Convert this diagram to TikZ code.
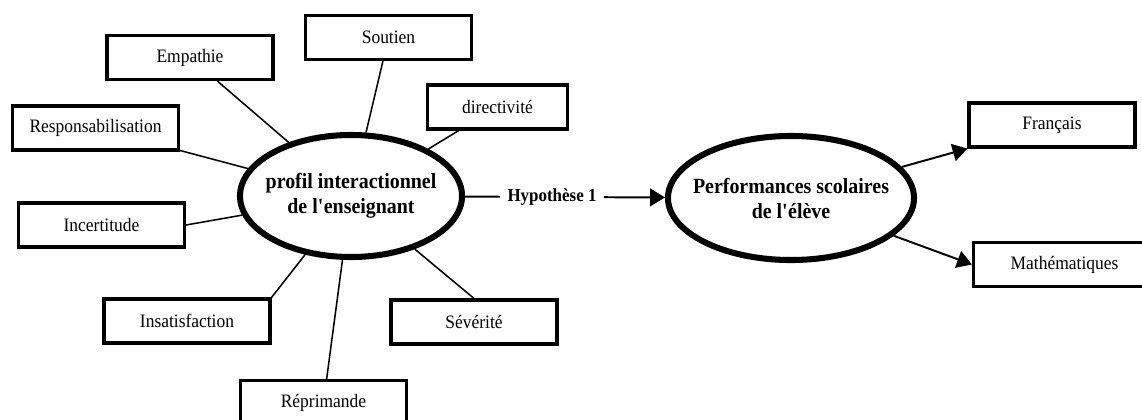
\documentclass[tikz,border=0pt]{standalone}
\usepackage{fontspec}
\setmainfont{Liberation Serif}[FakeStretch=0.92]
\usetikzlibrary{arrows.meta,shapes.geometric}

\begin{document}
\begin{tikzpicture}[x=0.025cm,y=-0.025cm,
  facette/.style={draw, line width=2.2pt, minimum width=4.15cm, minimum height=1.1cm, inner sep=0pt, font=\fontsize{13.5}{16}\selectfont},
  bulle/.style={draw, ellipse, line width=4.3pt, inner sep=0pt},
  titre/.style={font=\fontsize{15.4}{17.8}\selectfont\bfseries, align=center},
  lien/.style={line width=1.1pt},
  fleche/.style={line width=1.4pt, -{Triangle[length=10.5pt,width=12.5pt]}}]
\useasboundingbox (0,0) rectangle (1142,420);

% the two ellipses
\node[bulle, minimum width=5.55cm, minimum height=3.05cm,
  label={[titre]center:{profil interactionnel\\de l\textquotesingle enseignant}}] (prof) at (351,196) {};
\node[bulle, minimum width=6.15cm, minimum height=3.1cm,
  label={[titre]center:{Performances scolaires\\de l\textquotesingle élève}}] (perf) at (791,198) {};

% facets of the teacher profile
\node[facette] (emp) at (190,57.5) {Empathie};
\node[facette] (sout) at (388.5,37.5) {Soutien};
\node[facette, minimum width=3.5cm] (dir) at (497.5,107) {directivité};
\node[facette] (resp) at (95.5,128) {Responsabilisation};
\node[facette] (inc) at (101.5,225) {Incertitude};
\node[facette] (insat) at (187,321) {Insatisfaction};
\node[facette] (sev) at (474,322) {Sévérité};
\node[facette] (repr) at (323.5,402.5) {Réprimande};

\draw[lien] (emp) -- (prof);
\draw[lien] (sout) -- (prof);
\draw[lien] (dir) -- (prof);
\draw[lien] (resp) -- (prof);
\draw[lien] (inc.east) -- (prof);
\draw[lien] (insat.north east) -- (prof);
\draw[lien] (repr) -- (prof);
\draw[lien] (sev.north) -- (prof);

% hypothesis
\node[font=\fontsize{13.1}{15}\selectfont\bfseries, inner xsep=5pt] (hyp) at (552,197) {Hypothèse 1};
\draw[line width=1.4pt] (prof) -- (hyp);
\draw[fleche] (hyp) -- (perf);

% school subjects
\node[facette] (fr) at (1052,125) {Français};
\node[facette, minimum width=4.55cm] (math) at (1064.5,264.5) {Mathématiques};
\draw[fleche] (perf) -- (fr.south west);
\draw[fleche] (perf) -- (math.west);
\end{tikzpicture}
\end{document}
